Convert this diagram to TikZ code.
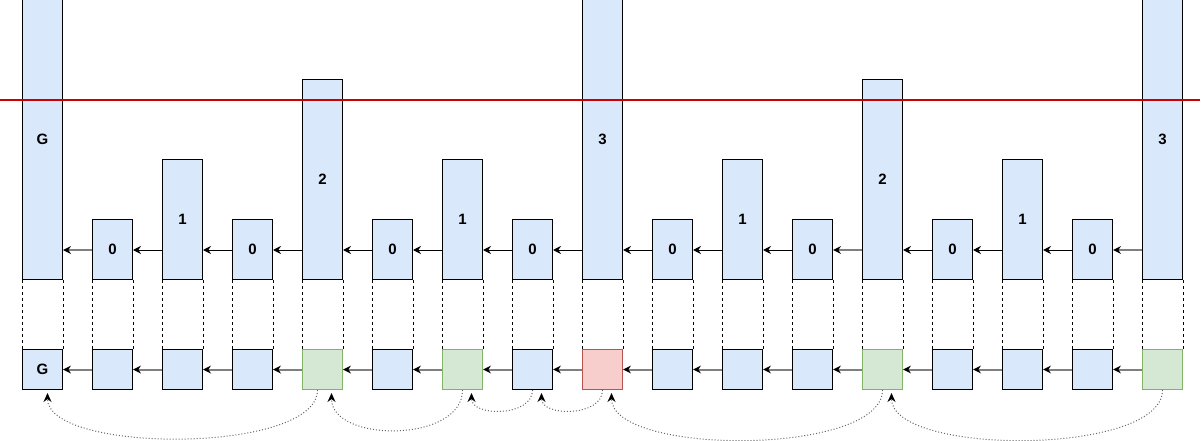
\documentclass[tikz,border=0pt]{standalone}
\usepackage{fontspec}
\setmainfont{Liberation Sans}
\usetikzlibrary{arrows.meta}

\begin{document}
\begin{tikzpicture}[x=1pt,y=-1pt,
  cell/.style={draw={rgb,255:red,0;green,0;blue,0},line width=1pt,inner sep=0pt,minimum width=40pt,anchor=south west,font=\fontsize{15}{18}\bfseries\selectfont},
  cellblue/.style={cell,fill={rgb,255:red,218;green,232;blue,252}},
  cellgreen/.style={cell,fill={rgb,255:red,213;green,232;blue,212},draw={rgb,255:red,130;green,179;blue,102}},
  cellred/.style={cell,fill={rgb,255:red,248;green,206;blue,204},draw={rgb,255:red,184;green,84;blue,80}},
  bar/.style={cellblue,minimum height=#1},
  slot/.style={minimum height=40pt},
  thinlink/.style={line width=1pt,-{Stealth[length=8pt,width=8pt]}},
  thicklink/.style={line width=2pt,draw={rgb,255:red,128;green,128;blue,128},-{Stealth[length=8pt,width=8pt,line width=0pt,color=black]}},
  guide/.style={line width=1pt,dash pattern=on 3pt off 3pt},
  jump/.style={line width=1pt,dotted,draw={rgb,255:red,100;green,100;blue,100},-{Stealth[length=9pt,width=8pt,color=black]}}
]
% 1204px x 441px
\useasboundingbox (0,0) rectangle (1204,441);

% upper row
\node[bar=280] (t0) at (22,280) {G};
\node[bar=60] (t1) at (92,280) {0};
\node[bar=120] (t2) at (162,280) {1};
\node[bar=60] (t3) at (232,280) {0};
\node[bar=200] (t4) at (302,280) {2};
\node[bar=60] (t5) at (372,280) {0};
\node[bar=120] (t6) at (442,280) {1};
\node[bar=60] (t7) at (512,280) {0};
\node[bar=280] (t8) at (582,280) {3};
\node[bar=60] (t9) at (652,280) {0};
\node[bar=120] (t10) at (722,280) {1};
\node[bar=60] (t11) at (792,280) {0};
\node[bar=200] (t12) at (862,280) {2};
\node[bar=60] (t13) at (932,280) {0};
\node[bar=120] (t14) at (1002,280) {1};
\node[bar=60] (t15) at (1072,280) {0};
\node[bar=280] (t16) at (1142,280) {3};

% lower row
\node[cellblue,slot] (b0) at (22,390) {G};
\node[cellblue,slot] (b1) at (92,390) {};
\node[cellblue,slot] (b2) at (162,390) {};
\node[cellblue,slot] (b3) at (232,390) {};
\node[cellgreen,slot] (b4) at (302,390) {};
\node[cellblue,slot] (b5) at (372,390) {};
\node[cellgreen,slot] (b6) at (442,390) {};
\node[cellblue,slot] (b7) at (512,390) {};
\node[cellred,slot] (b8) at (582,390) {};
\node[cellblue,slot] (b9) at (652,390) {};
\node[cellblue,slot] (b10) at (722,390) {};
\node[cellblue,slot] (b11) at (792,390) {};
\node[cellgreen,slot] (b12) at (862,390) {};
\node[cellblue,slot] (b13) at (932,390) {};
\node[cellblue,slot] (b14) at (1002,390) {};
\node[cellblue,slot] (b15) at (1072,390) {};
\node[cellgreen,slot] (b16) at (1142,390) {};

% level line
\draw[line width=2.5pt,draw={rgb,255:red,204;green,0;blue,0}] (0,100) -- (1200,100);

% dashed guides
\foreach \i in {0,...,16} {
  \draw[guide] (t\i.south west) -- (b\i.north west);
  \draw[guide] (t\i.south east) -- (b\i.north east);
}

% upper links
\draw[thicklink] ([yshift=30pt]t1.south west) -- ([yshift=30pt]t0.south east);
\foreach \i/\j in {2/1,3/2,4/3,5/4,6/5,7/6,8/7,9/8,10/9,11/10,13/12,14/13,15/14} {
  \draw[thinlink] ([yshift=30pt]t\i.south west) -- ([yshift=30pt]t\j.south east);
}
\draw[thicklink] ([yshift=30pt]t12.south west) -- ([yshift=30pt]t11.south east);
\draw[thicklink] ([yshift=30pt]t16.south west) -- ([yshift=30pt]t15.south east);

% lower links
\foreach \i/\j in {1/0,2/1,3/2,4/3,5/4,6/5,7/6,8/7,9/8,10/9,11/10,12/11,13/12,14/13,15/14,16/15} {
  \draw[thicklink] (b\i.west) -- (b\j.east);
}

% jumps
\draw[jump] ([xshift=-5pt]b4.south) .. controls +(0,64) and +(0,61) .. ([xshift=5pt,yshift=-3pt]b0.south);
\draw[jump] (b6.south) .. controls +(0,53) and +(0,50) .. ([xshift=9pt,yshift=-3pt]b4.south);
\draw[jump] (b7.south) .. controls +(0,27) and +(0,24) .. ([xshift=9pt,yshift=-3pt]b6.south);
\draw[jump] (b8.south) .. controls +(0,27) and +(0,24) .. ([xshift=9pt,yshift=-3pt]b7.south);
\draw[jump] (b12.south) .. controls +(0,66) and +(0,63) .. ([xshift=9pt,yshift=-3pt]b8.south);
\draw[jump] (b16.south) .. controls +(0,66) and +(0,63) .. ([xshift=9pt,yshift=-3pt]b12.south);
\end{tikzpicture}
\end{document}
